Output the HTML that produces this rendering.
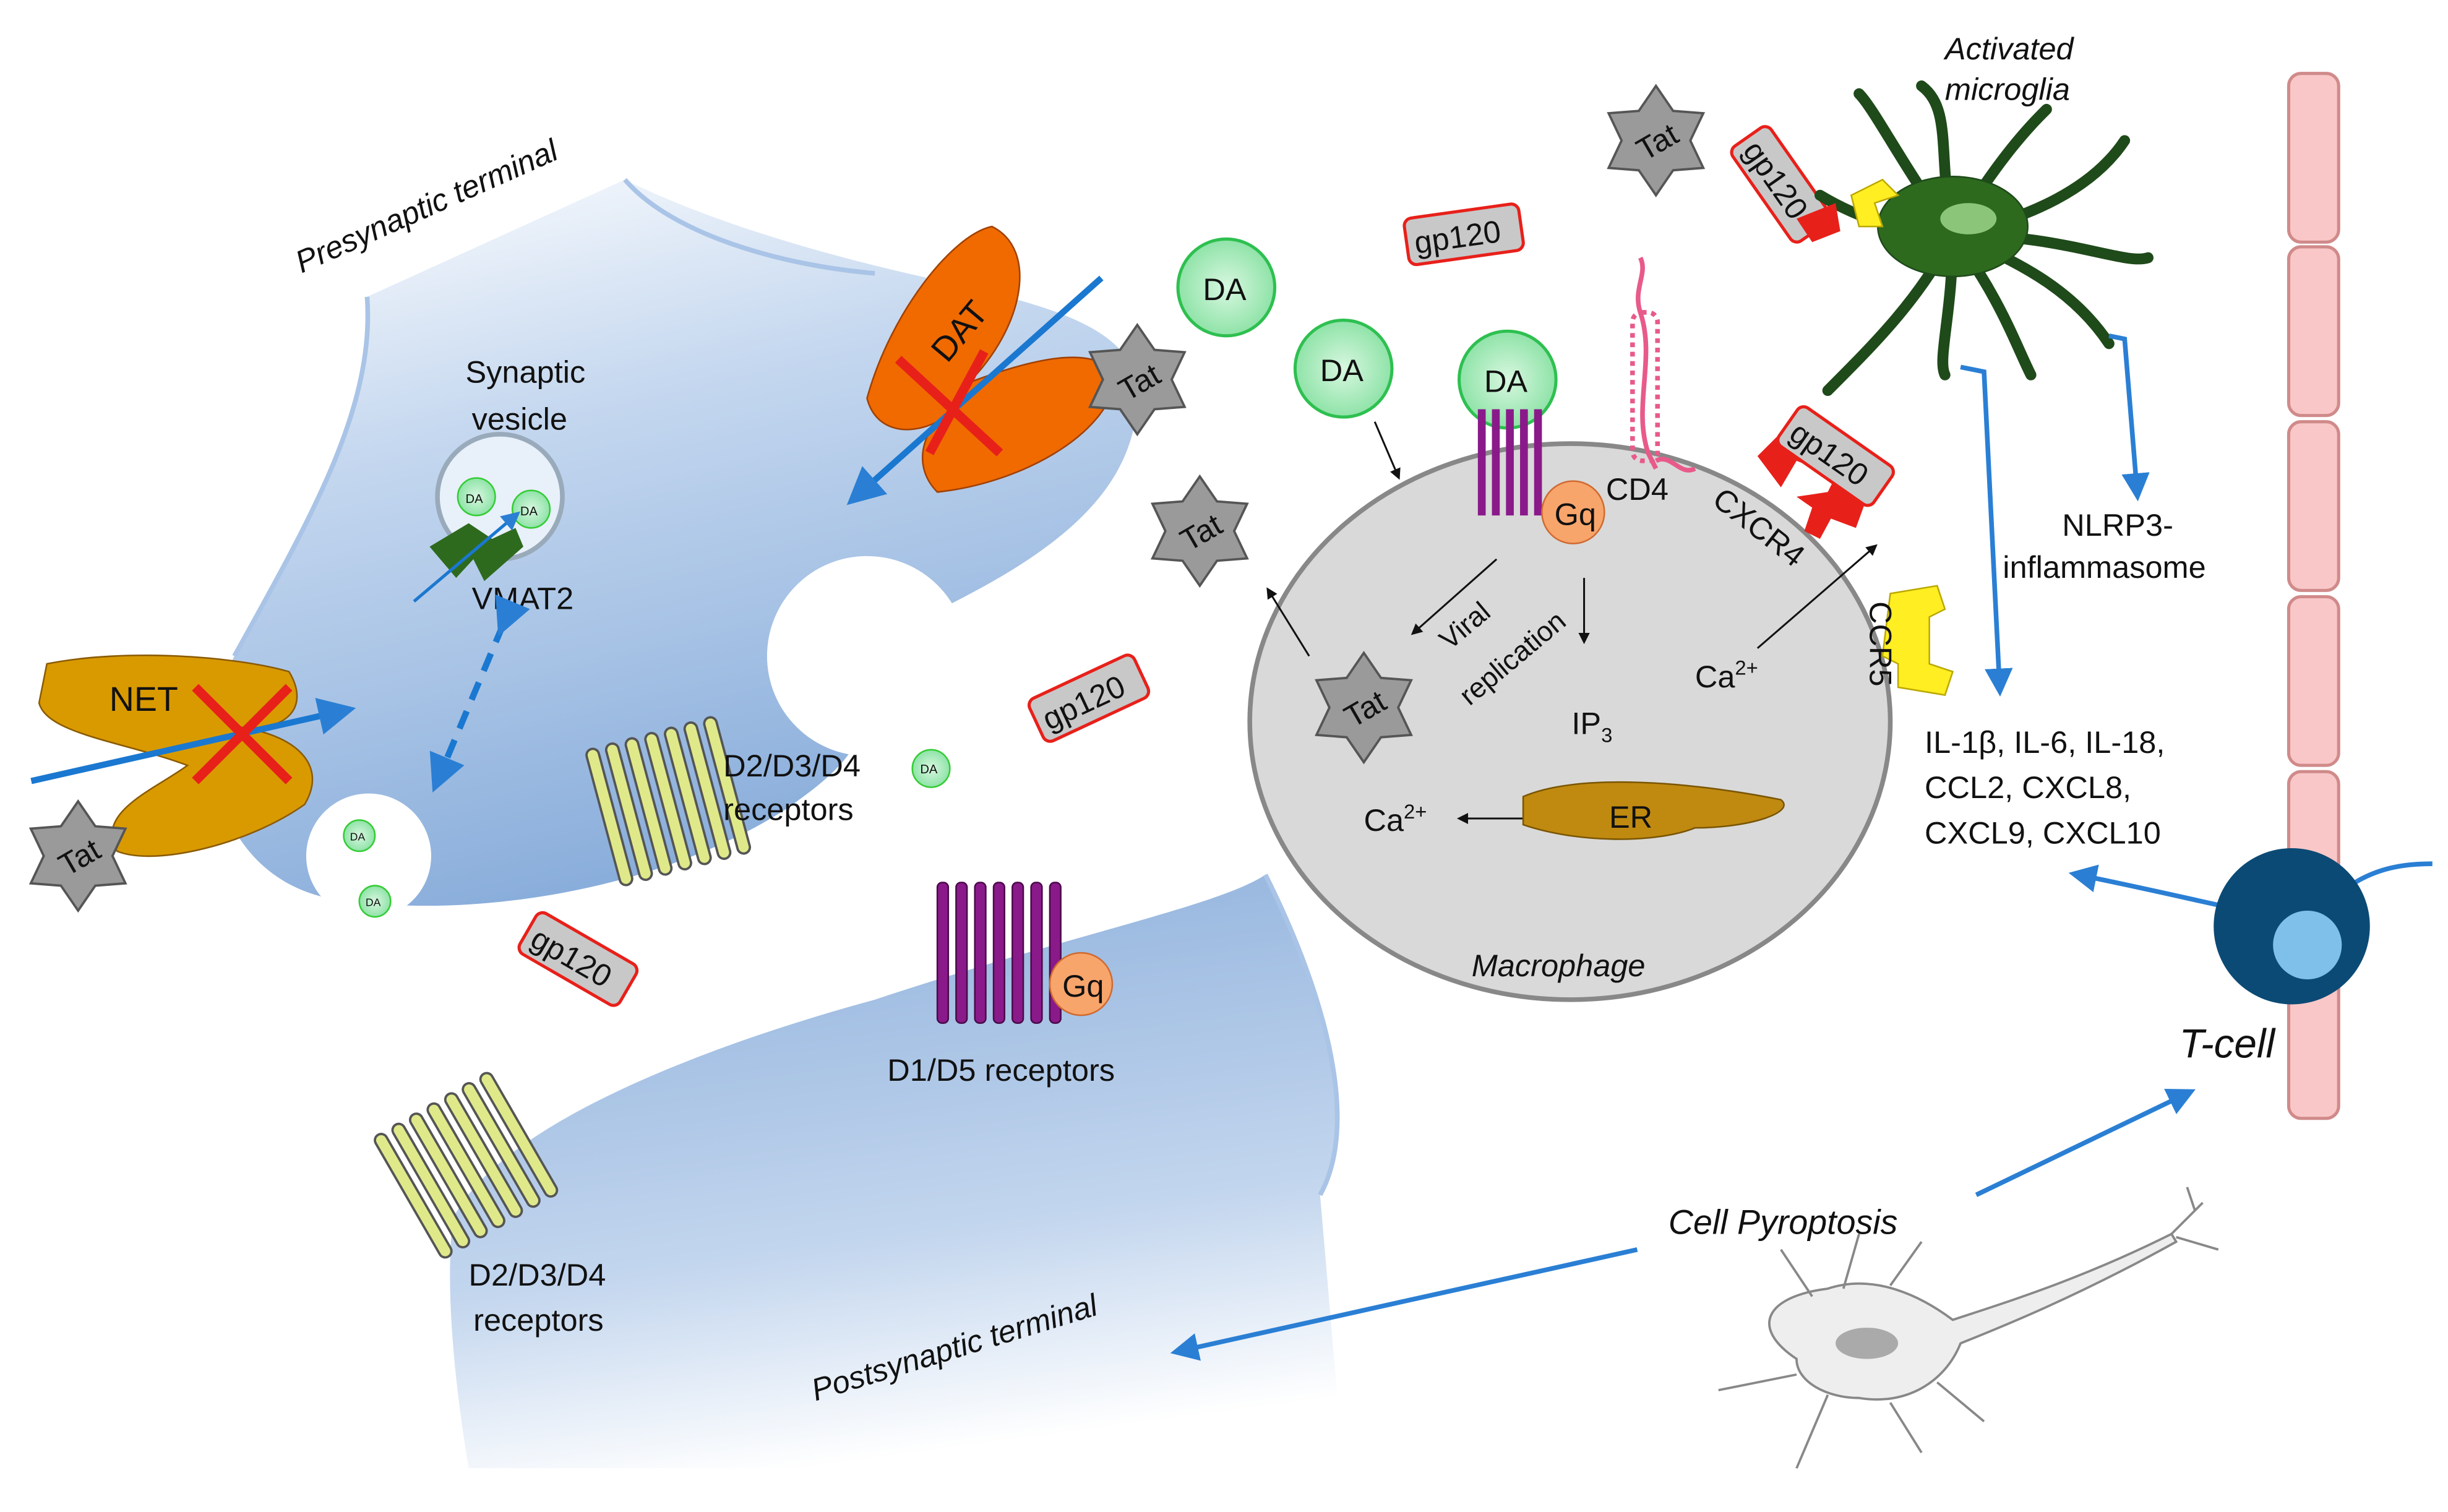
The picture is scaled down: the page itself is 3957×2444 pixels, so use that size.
<!DOCTYPE html>
<html><head><meta charset="utf-8"><style>
html,body{margin:0;padding:0;background:#fff;}
svg{display:block;}
text{font-family:"Liberation Sans",sans-serif;fill:#111;}
</style></head><body>
<svg width="3957" height="2444" viewBox="0 0 1567 968" preserveAspectRatio="none" xmlns="http://www.w3.org/2000/svg">
<defs>
<linearGradient id="pre" x1="0" y1="0" x2="0.3" y2="1">
<stop offset="0" stop-color="#ffffff"/><stop offset="0.4" stop-color="#c4d7ef"/><stop offset="1" stop-color="#8aaedb"/></linearGradient>
<linearGradient id="post" x1="0.2" y1="0" x2="0.4" y2="1">
<stop offset="0" stop-color="#8fb1dc"/><stop offset="0.65" stop-color="#c3d6ee"/><stop offset="1" stop-color="#ffffff"/></linearGradient>
<radialGradient id="da" cx="0.5" cy="0.5" r="0.5"><stop offset="0" stop-color="#d8f7e0"/><stop offset="1" stop-color="#8fe3a8"/></radialGradient>
<polygon id="star" points="0,-35 11,-19 30.3,-17.5 22,0 30.3,17.5 11,19 0,35 -11,19 -30.3,17.5 -22,0 -30.3,-17.5 -11,-19" fill="#9a9a9a" stroke="#555" stroke-width="1.5"/>
<marker id="ab" markerWidth="6" markerHeight="6" refX="4" refY="3" orient="auto"><path d="M0,0 L6,3 L0,6 z" fill="#2a7fd4"/></marker>
<marker id="ak" markerWidth="6" markerHeight="6" refX="4" refY="3" orient="auto"><path d="M0,0 L6,3 L0,6 z" fill="#111"/></marker>
</defs>

<!-- presynaptic terminal -->
<path d="M235,190 C240,260 200,330 150,420 C120,480 140,560 210,575 C300,590 420,570 500,520 C560,480 560,460 540,420 C620,380 730,340 728,250 C726,200 640,190 560,170 C480,150 430,130 400,115 L235,190 Z" fill="url(#pre)"/>
<path d="M235,190 C240,260 200,330 150,420" fill="none" stroke="#a9c4e6" stroke-width="3"/>
<path d="M400,115 C430,150 500,170 560,175" fill="none" stroke="#a9c4e6" stroke-width="3"/>
<circle cx="555" cy="420" r="64" fill="#fff"/>
<circle cx="236" cy="548" r="40" fill="#fff"/>
<!-- postsynaptic terminal -->
<path d="M290,780 C320,720 450,670 560,640 C680,600 780,580 810,560 C850,640 870,720 845,765 L860,940 L300,940 C290,880 285,820 290,780 Z" fill="url(#post)"/>
<path d="M810,560 C850,640 870,720 845,765" fill="none" stroke="#a9c4e6" stroke-width="3"/>

<text x="193" y="175" font-size="20" font-style="italic" transform="rotate(-24 193 175)">Presynaptic terminal</text>
<text x="522" y="897" font-size="20" font-style="italic" transform="rotate(-17 522 897)">Postsynaptic terminal</text>

<!-- vesicle -->
<circle cx="320" cy="318" r="40" fill="#e8f0fa" stroke="#9ab" stroke-width="3"/>
<circle cx="305" cy="318" r="12" fill="url(#da)" stroke="#3c3"/><text x="298" y="322" font-size="8">DA</text>
<circle cx="340" cy="326" r="12" fill="url(#da)" stroke="#3c3"/><text x="333" y="330" font-size="8">DA</text>
<path d="M275,350 L300,335 L315,345 L292,370 Z M300,352 L330,338 L335,350 L310,372 Z" fill="#2d6a1e"/>
<line x1="265" y1="385" x2="330" y2="330" stroke="#1a78d0" stroke-width="2" marker-end="url(#ab)"/>
<text x="298" y="245" font-size="20">Synaptic</text><text x="302" y="275" font-size="20">vesicle</text>
<text x="302" y="390" font-size="20">VMAT2</text>
<line x1="322" y1="400" x2="280" y2="500" stroke="#1a78d0" stroke-width="4" stroke-dasharray="12,8" marker-end="url(#ab)" marker-start="url(#ab)"/>
<circle cx="230" cy="535" r="10" fill="url(#da)" stroke="#3c3"/><text x="224" y="538" font-size="7">DA</text>
<circle cx="240" cy="577" r="10" fill="url(#da)" stroke="#3c3"/><text x="234" y="580" font-size="7">DA</text>
<circle cx="596" cy="492" r="12" fill="url(#da)" stroke="#3c3"/><text x="589" y="495" font-size="8">DA</text>

<!-- NET -->
<path d="M30,425 C80,415 150,420 185,430 C200,455 180,470 150,465 C190,470 210,490 195,515 C160,540 100,555 75,545 C60,520 100,505 120,490 C80,475 30,470 25,450 Z" fill="#d99a00" stroke="#8a5a00"/>
<text x="70" y="455" font-size="22">NET</text>
<line x1="20" y1="500" x2="220" y2="455" stroke="#1a78d0" stroke-width="4" marker-end="url(#ab)"/>
<path d="M125,440 L185,500 M185,440 L125,500" stroke="#e8201a" stroke-width="6"/>
<use href="#star" x="50" y="548"/><text x="37" y="556" font-size="20" transform="rotate(-30 50 548)">Tat</text>

<!-- DAT -->
<path d="M555,255 C570,200 610,150 635,145 C665,160 655,210 620,245 C660,230 700,220 715,240 C710,280 650,310 600,315 C585,300 590,280 600,270 C580,280 560,275 555,255 Z" fill="#f06a00" stroke="#a04000"/>
<text x="590" y="222" font-size="22" transform="rotate(-50 610 210)">DAT</text>
<line x1="705" y1="178" x2="548" y2="318" stroke="#1a78d0" stroke-width="4" marker-end="url(#ab)"/>
<path d="M575,230 L640,290 M630,225 L595,290" stroke="#e8201a" stroke-width="6"/>
<use href="#star" x="728" y="243"/><text x="715" y="252" font-size="20" transform="rotate(-30 728 243)">Tat</text>
<use href="#star" x="768" y="340"/><text x="755" y="348" font-size="20" transform="rotate(-30 768 340)">Tat</text>

<!-- receptors D2 presyn -->
<g stroke="#555" stroke-width="1.5" fill="#dfe98a">
<rect x="385" y="470" width="8" height="90" rx="4" transform="rotate(-15 420 515)"/>
<rect x="398" y="470" width="8" height="90" rx="4" transform="rotate(-15 420 515)"/>
<rect x="411" y="470" width="8" height="90" rx="4" transform="rotate(-15 420 515)"/>
<rect x="424" y="470" width="8" height="90" rx="4" transform="rotate(-15 420 515)"/>
<rect x="437" y="470" width="8" height="90" rx="4" transform="rotate(-15 420 515)"/>
<rect x="450" y="470" width="8" height="90" rx="4" transform="rotate(-15 420 515)"/>
<rect x="463" y="470" width="8" height="90" rx="4" transform="rotate(-15 420 515)"/>
</g>
<text x="463" y="497" font-size="20">D2/D3/D4</text><text x="463" y="525" font-size="20">receptors</text>

<!-- D2 post -->
<g stroke="#555" stroke-width="1.5" fill="#dfe98a">
<rect x="255" y="700" width="8" height="90" rx="4" transform="rotate(-30 300 745)"/>
<rect x="268" y="700" width="8" height="90" rx="4" transform="rotate(-30 300 745)"/>
<rect x="281" y="700" width="8" height="90" rx="4" transform="rotate(-30 300 745)"/>
<rect x="294" y="700" width="8" height="90" rx="4" transform="rotate(-30 300 745)"/>
<rect x="307" y="700" width="8" height="90" rx="4" transform="rotate(-30 300 745)"/>
<rect x="320" y="700" width="8" height="90" rx="4" transform="rotate(-30 300 745)"/>
<rect x="333" y="700" width="8" height="90" rx="4" transform="rotate(-30 300 745)"/>
</g>
<text x="300" y="823" font-size="20">D2/D3/D4</text><text x="303" y="852" font-size="20">receptors</text>

<!-- D1/D5 -->
<g fill="#8a1a8a" stroke="#4a0a4a">
<rect x="600" y="565" width="7" height="90" rx="3"/><rect x="612" y="565" width="7" height="90" rx="3"/><rect x="624" y="565" width="7" height="90" rx="3"/><rect x="636" y="565" width="7" height="90" rx="3"/><rect x="648" y="565" width="7" height="90" rx="3"/><rect x="660" y="565" width="7" height="90" rx="3"/><rect x="672" y="565" width="7" height="90" rx="3"/>
</g>
<circle cx="692" cy="630" r="20" fill="#f8a56c" stroke="#d06a30"/><text x="680" y="638" font-size="20">Gq</text>
<text x="568" y="692" font-size="20">D1/D5 receptors</text>

<!-- DA extracellular -->
<circle cx="785" cy="184" r="31" fill="url(#da)" stroke="#2ec050" stroke-width="2"/><text x="770" y="192" font-size="20">DA</text>
<circle cx="860" cy="236" r="31" fill="url(#da)" stroke="#2ec050" stroke-width="2"/><text x="845" y="244" font-size="20">DA</text>

<!-- macrophage -->
<ellipse cx="1005" cy="462" rx="205" ry="178" fill="#d9d9d9" stroke="#888" stroke-width="3"/>
<circle cx="965" cy="243" r="31" fill="url(#da)" stroke="#2ec050" stroke-width="2"/><text x="950" y="251" font-size="20">DA</text>
<g fill="#8a1a8a"><rect x="946" y="262" width="5" height="68"/><rect x="955" y="262" width="5" height="68"/><rect x="964" y="262" width="5" height="68"/><rect x="973" y="262" width="5" height="68"/><rect x="982" y="262" width="5" height="68"/></g>
<circle cx="1007" cy="328" r="20" fill="#f8a56c" stroke="#d06a30"/><text x="995" y="336" font-size="20">Gq</text>
<path d="M1060,300 L1055,290 C1045,260 1060,230 1050,200 C1045,185 1055,175 1050,165" fill="none" stroke="#e85a8a" stroke-width="3"/>
<rect x="1045" y="200" width="16" height="95" rx="6" fill="none" stroke="#e85a8a" stroke-width="3" stroke-dasharray="3,3"/>
<path d="M1060,295 C1070,290 1075,305 1085,300" fill="none" stroke="#e85a8a" stroke-width="3"/>
<text x="1028" y="320" font-size="20">CD4</text>
<!-- CXCR4 red receptor -->
<path d="M1125,292 L1145,272 L1200,305 L1188,338 L1172,332 L1165,345 L1155,340 L1160,325 L1150,318 L1170,315 L1175,305 L1150,295 L1140,312 Z" fill="#e8201a"/>
<g transform="rotate(35 1175 292)"><rect x="1138" y="277" width="74" height="30" rx="5" fill="#c8c8c8" stroke="#e8201a" stroke-width="2"/><text x="1143" y="300" font-size="20">gp120</text></g>
<text x="1095" y="322" font-size="20" transform="rotate(38 1095 322)">CXCR4</text>
<path d="M1210,380 L1240,375 L1245,390 L1235,395 L1235,425 L1250,430 L1245,445 L1215,440 L1215,425 L1205,420 Z" fill="#ffee22" stroke="#bba800"/>
<text x="1197" y="385" font-size="20" transform="rotate(90 1197 385)">CCR5</text>
<use href="#star" x="873" y="453"/><text x="860" y="461" font-size="20" transform="rotate(-30 873 453)">Tat</text>
<use href="#star" x="1060" y="90"/><text x="1047" y="98" font-size="20" transform="rotate(-30 1060 90)">Tat</text>
<text x="920" y="405" font-size="18" transform="rotate(-40 940 400)">Viral</text>
<text x="918" y="430" font-size="18" transform="rotate(-40 960 410)">replication</text>
<g stroke="#111" stroke-width="1.2" fill="none">
<line x1="880" y1="270" x2="895" y2="305" marker-end="url(#ak)"/>
<line x1="958" y1="358" x2="905" y2="405" marker-end="url(#ak)"/>
<line x1="1014" y1="370" x2="1014" y2="410" marker-end="url(#ak)"/>
<line x1="1125" y1="415" x2="1200" y2="350" marker-end="url(#ak)"/>
<line x1="838" y1="420" x2="812" y2="378" marker-end="url(#ak)"/>
<line x1="975" y1="524" x2="935" y2="524" marker-end="url(#ak)"/>
</g>
<text x="1006" y="470" font-size="20">IP<tspan font-size="13" dy="5">3</tspan></text>
<text x="1085" y="440" font-size="20">Ca<tspan font-size="13" dy="-8">2+</tspan></text>
<text x="873" y="532" font-size="20">Ca<tspan font-size="13" dy="-8">2+</tspan></text>
<path d="M975,510 C1010,495 1080,500 1140,512 C1150,520 1120,530 1085,530 C1060,540 1010,540 975,528 Z" fill="#c08a10" stroke="#7a5500"/>
<text x="1030" y="530" font-size="20">ER</text>
<text x="942" y="625" font-size="20" font-style="italic">Macrophage</text>

<!-- gp120 tags -->
<g font-size="20">
<g transform="rotate(-8 937 150)"><rect x="900" y="135" width="74" height="30" rx="5" fill="#c8c8c8" stroke="#e8201a" stroke-width="2"/><text x="905" y="158">gp120</text></g>
<g transform="rotate(-25 697 447)"><rect x="660" y="432" width="74" height="30" rx="5" fill="#c8c8c8" stroke="#e8201a" stroke-width="2"/><text x="665" y="455">gp120</text></g>
<g transform="rotate(30 370 614)"><rect x="333" y="599" width="74" height="30" rx="5" fill="#c8c8c8" stroke="#e8201a" stroke-width="2"/><text x="338" y="622">gp120</text></g>
<g transform="rotate(55 1140 118)"><rect x="1103" y="103" width="74" height="30" rx="5" fill="#c8c8c8" stroke="#e8201a" stroke-width="2"/><text x="1108" y="126">gp120</text></g>
</g>

<!-- microglia -->
<g stroke="#1f4a1a" stroke-width="7" fill="none" stroke-linecap="round">
<path d="M1250,150 C1220,110 1200,70 1190,60"/><path d="M1250,150 C1280,100 1300,80 1310,70"/>
<path d="M1250,150 C1300,140 1340,120 1360,90"/><path d="M1250,150 C1300,170 1330,190 1350,220"/>
<path d="M1250,150 C1280,190 1290,220 1300,240"/><path d="M1250,150 C1230,190 1200,220 1170,250"/>
<path d="M1250,150 C1220,150 1190,140 1165,125"/><path d="M1250,150 C1320,150 1360,170 1375,165"/>
<path d="M1250,150 C1250,200 1240,230 1245,240"/><path d="M1250,150 C1240,100 1250,70 1230,55"/>
</g>
<ellipse cx="1250" cy="145" rx="48" ry="32" fill="#2d6a1e" stroke="#1f4a1a"/>
<ellipse cx="1260" cy="140" rx="18" ry="10" fill="#8bc57a"/>
<path d="M1185,125 L1205,115 L1215,125 L1200,130 L1205,145 L1190,145 Z" fill="#ffee22" stroke="#bba800"/>
<path d="M1150,140 L1175,130 L1178,148 L1160,155 Z" fill="#e8201a"/>
<text x="1245" y="38" font-size="20" font-style="italic">Activated</text>
<text x="1245" y="64" font-size="20" font-style="italic">microglia</text>

<!-- blue arrows -->
<path d="M1255,235 L1270,238 L1280,440" fill="none" stroke="#2a7fd4" stroke-width="3" marker-end="url(#ab)"/>
<path d="M1350,215 L1360,217 L1368,315" fill="none" stroke="#2a7fd4" stroke-width="3" marker-end="url(#ab)"/>
<text x="1320" y="343" font-size="20">NLRP3-</text><text x="1282" y="370" font-size="20">inflammasome</text>
<text x="1232" y="482" font-size="20">IL-1β, IL-6, IL-18,</text>
<text x="1232" y="511" font-size="20">CCL2, CXCL8,</text>
<text x="1232" y="540" font-size="20">CXCL9, CXCL10</text>

<!-- vessel -->
<g fill="#f9c7c7" stroke="#d08a8a" stroke-width="2">
<rect x="1465" y="47" width="32" height="108" rx="8"/><rect x="1465" y="158" width="32" height="108" rx="8"/>
<rect x="1465" y="270" width="32" height="108" rx="8"/><rect x="1465" y="382" width="32" height="108" rx="8"/>
<rect x="1465" y="494" width="32" height="108" rx="8"/><rect x="1465" y="606" width="32" height="110" rx="8"/>
</g>
<path d="M1470,590 C1420,580 1380,570 1330,560" fill="none" stroke="#2a7fd4" stroke-width="3" marker-end="url(#ab)"/>
<path d="M1500,570 C1520,555 1540,553 1557,553" fill="none" stroke="#2a7fd4" stroke-width="3"/>
<circle cx="1467" cy="593" r="50" fill="#0b4a75"/>
<circle cx="1477" cy="605" r="22" fill="#7ec0ea"/>
<text x="1395" y="677" font-size="26" font-style="italic">T-cell</text>

<!-- pyroptosis -->
<text x="1068" y="790" font-size="22" font-style="italic">Cell Pyroptosis</text>
<line x1="1265" y1="765" x2="1400" y2="700" stroke="#2a7fd4" stroke-width="3" marker-end="url(#ab)"/>
<line x1="1048" y1="800" x2="755" y2="865" stroke="#2a7fd4" stroke-width="3" marker-end="url(#ab)"/>

<!-- neuron -->
<g stroke="#888" fill="#eee" stroke-width="1.5">
<path d="M1150,870 C1120,850 1130,830 1170,825 C1200,815 1230,830 1250,845 C1280,835 1330,820 1390,790 L1393,795 C1330,830 1280,850 1255,860 C1245,885 1220,900 1190,895 C1170,895 1150,885 1150,870 Z"/>
<path d="M1160,830 L1140,800 M1180,825 L1190,790 M1210,823 L1230,795 M1150,880 L1100,890 M1170,893 L1150,940 M1210,898 L1230,930 M1240,885 L1270,910" fill="none"/>
<path d="M1390,790 L1410,770 M1393,792 L1420,800 M1405,775 L1400,760" fill="none"/>
</g>
<ellipse cx="1195" cy="860" rx="20" ry="10" fill="#aaa"/>
</svg>
</body></html>
